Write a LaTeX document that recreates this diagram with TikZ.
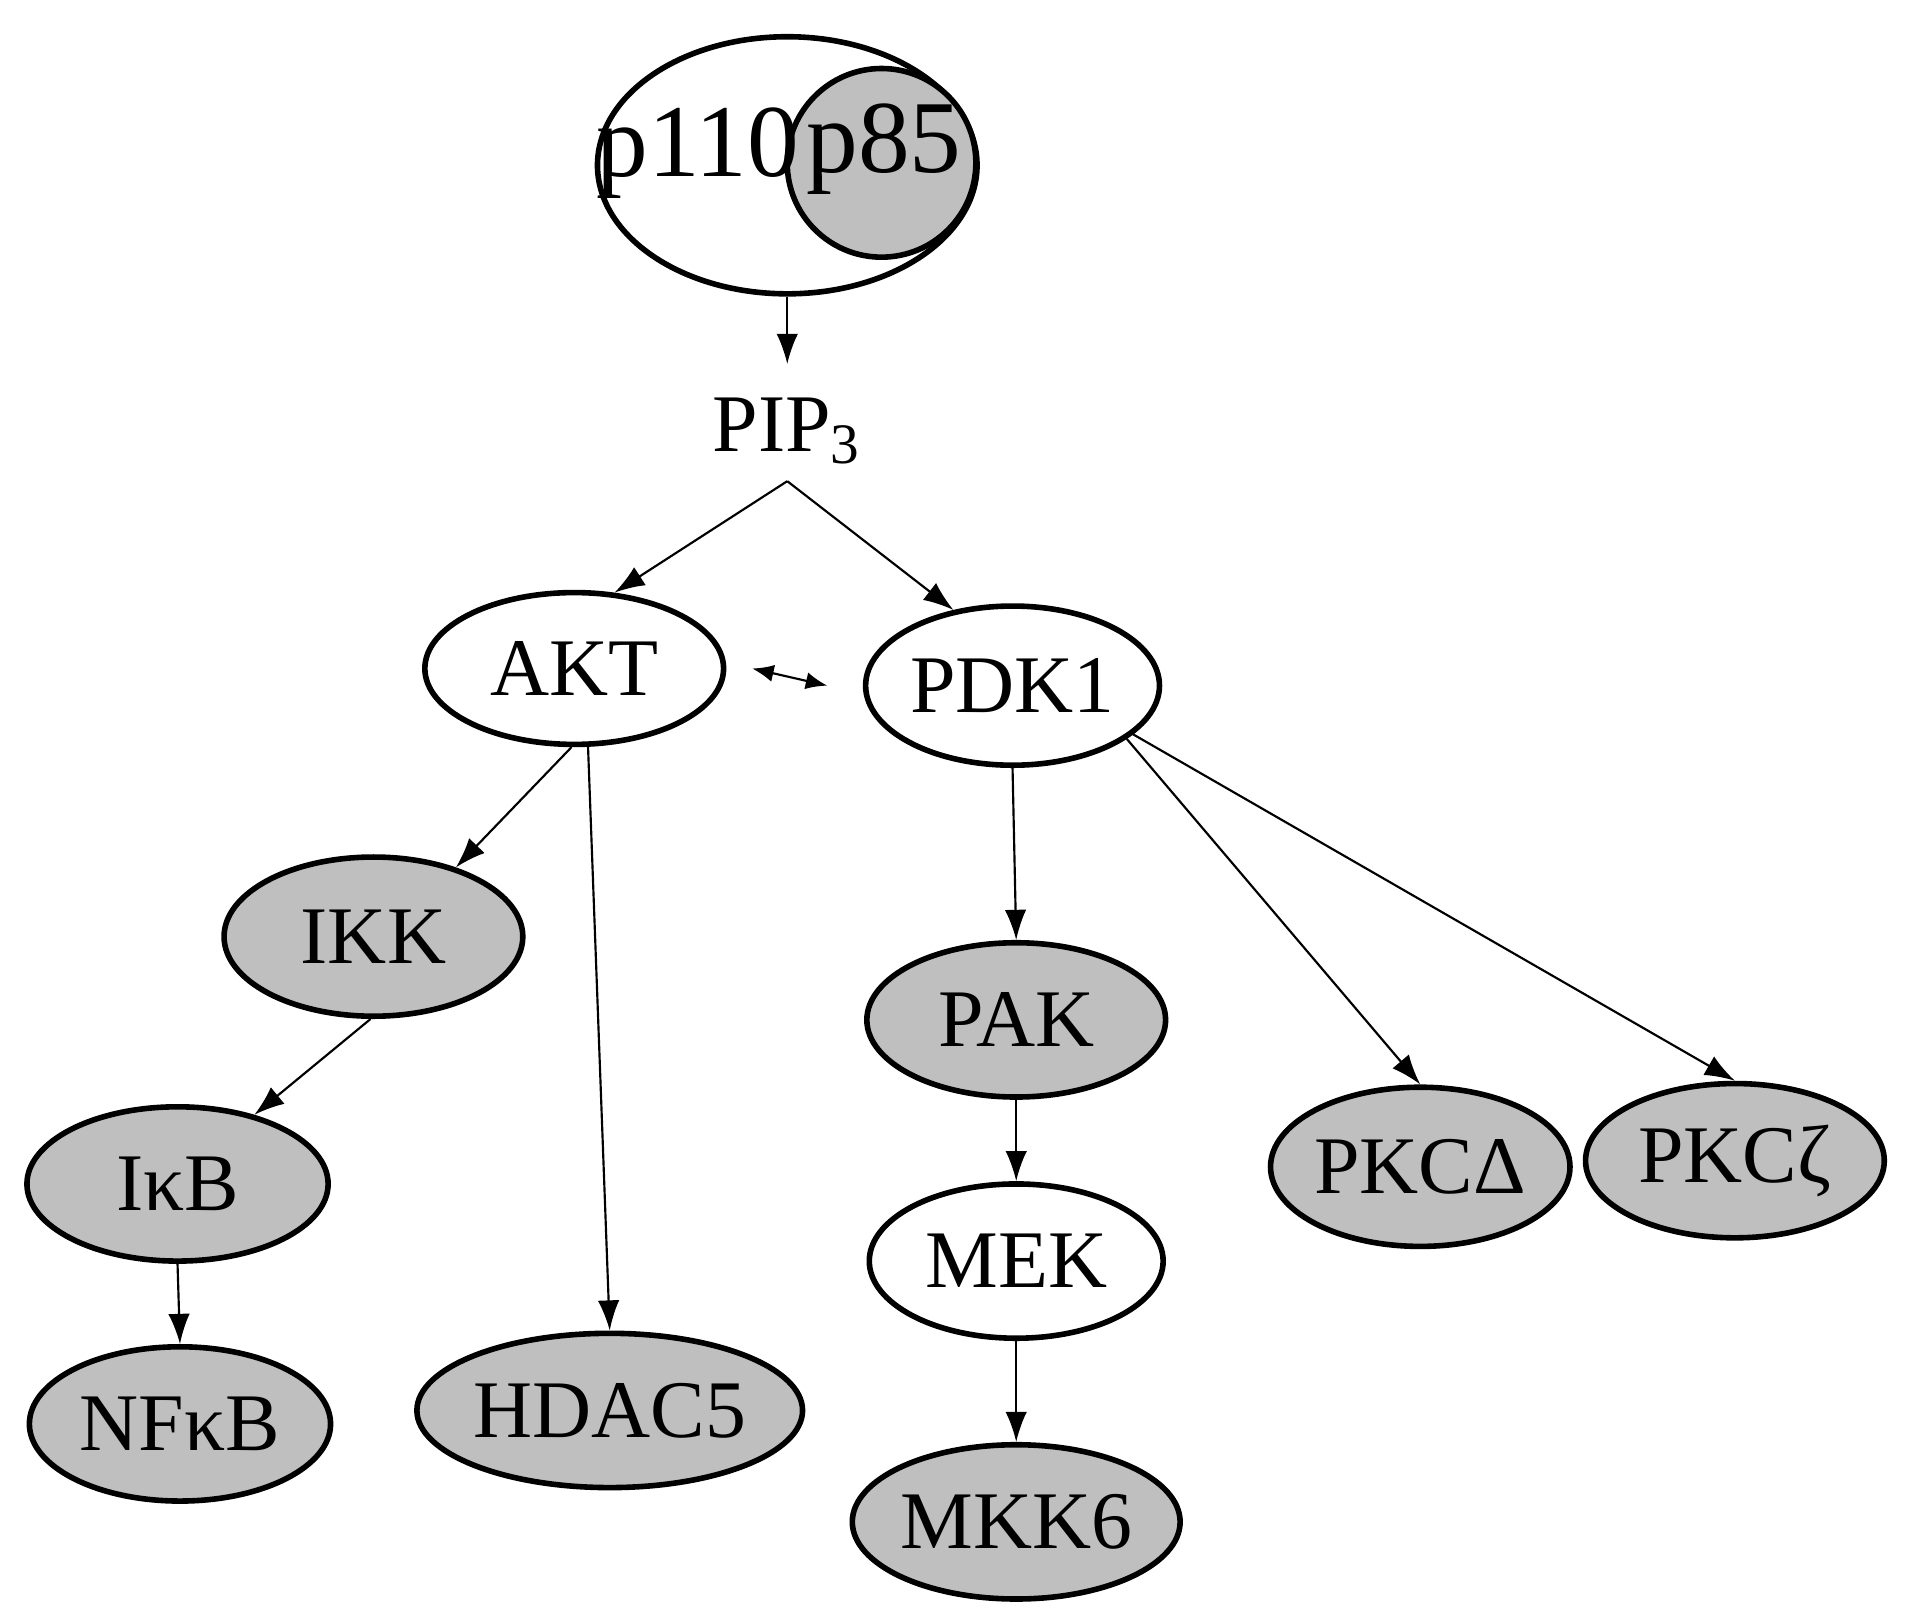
\documentclass[tikz,border=0pt]{standalone}
\usepackage{fontspec}
\setmainfont{Liberation Serif}
\usetikzlibrary{shapes.geometric,arrows.meta}
\begin{document}
\begin{tikzpicture}[x=0.01cm,y=-0.01cm,
  el/.style 2 args={ellipse,draw,line width=1.3pt,inner sep=0pt,minimum width=#1*0.01cm,minimum height=#2*0.01cm,font=\fontsize{19}{22}\selectfont},
  g/.style={fill=gray!50},
  ar/.style={-{Latex[length=7pt,width=5pt]},line width=0.5pt}]
\useasboundingbox (0,0) rectangle (1560,1319);
\node[el={310}{210}] (p110) at (643,135) {};
\node[circle,draw,line width=1.3pt,g,inner sep=0pt,minimum size=1.54cm] (p85) at (720,133) {};
\node[font=\fontsize{24}{28}\selectfont] (t110) at (570,125) {p110};
\node[font=\fontsize{24}{28}\selectfont] (t85) at (722,122) {p85};
\node[font=\fontsize{19}{22}\selectfont] (pip) at (643,352) {PIP\textsubscript{3}};
\node[el={244}{124}] (akt) at (469,546) {AKT};
\node[el={240}{130}] (pdk) at (827,560) {PDK1};
\node[el={244}{130},g] (ikk) at (305,765) {IKK};
\node[el={246}{126},g] (ikb) at (145,967) {IκB};
\node[el={246}{126},g] (nfkb) at (147,1163) {NFκB};
\node[el={244}{126},g] (hdac) at (498,1152) {HDAC5};
\node[el={244}{126},g] (pak) at (830,833) {PAK};
\node[el={240}{126}] (mek) at (830,1030) {MEK};
\node[el={240}{126},g] (mkk) at (830,1243) {MKK6};
\node[el={240}{130},g] (pkcd) at (1160,953) {PKCΔ};
\node[el={244}{126},g] (pkcz) at (1417,948) {PKCζ};
\coordinate (pipb) at (643,393);
\draw[ar] (p110.south) -- ++(0,55);
\draw[ar] (pipb) -- (akt.62);
\draw[ar] (pipb) -- (pdk.128);
\draw[{Latex[length=5pt,width=4pt]}-{Latex[length=5pt,width=4pt]},line width=0.5pt] ([xshift=0.21cm]akt.east) -- ([xshift=-0.29cm]pdk.west);
\draw[ar] (akt.-92) -- (ikk.40);
\draw[ar] (akt.-80) -- (hdac.north);
\draw[ar] (ikk.-92) -- (ikb.42);
\draw[ar] (ikb.south) -- (nfkb.north);
\draw[ar] (pdk.south) -- (pak.north);
\draw[ar] (pak.south) -- (mek.north);
\draw[ar] (mek.south) -- (mkk.north);
\draw[ar] (pdk.-25) -- (pkcd.north);
\draw[ar] (pdk.-22) -- (pkcz.north);
\end{tikzpicture}
\end{document}
